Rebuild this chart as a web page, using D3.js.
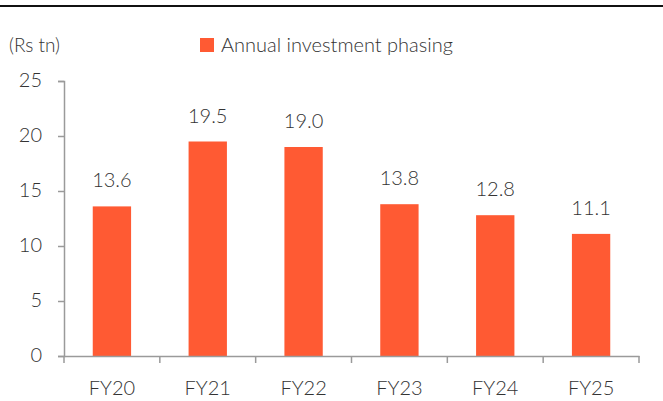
<!DOCTYPE html>
<html><head><meta charset="utf-8">
<script src="https://cdn.jsdelivr.net/npm/d3@7"></script>
<style>body{margin:0;background:#fff}svg{display:block}text{font-family:Lato,"Open Sans",sans-serif;font-weight:300}</style>
</head><body>
<script>
const categories = ["FY20","FY21","FY22","FY23","FY24","FY25"];
const values = [13.6,19.5,19.0,13.8,12.8,11.1];
const yTicks = [0,5,10,15,20,25];
const seriesName = "Annual investment phasing";
const unitLabel = "(Rs tn)";

const W=663,H=401;
const svg=d3.select("body").append("svg").attr("width",W).attr("height",H);
const color="#FF5A33", axisColor="#9a9a9a", textColor="#333";

// top rule
svg.append("line").attr("x1",0).attr("x2",W).attr("y1",6).attr("y2",6).attr("stroke","#111").attr("stroke-width",2);

const x=d3.scaleBand().domain(categories).range([64,639]).paddingInner(0.6).paddingOuter(0.3);
const y=d3.scaleLinear().domain([0,25]).range([356,81]);

// bars
svg.selectAll("rect.bar").data(values).enter().append("rect").attr("class","bar")
 .attr("x",(d,i)=>x(categories[i])).attr("width",x.bandwidth())
 .attr("y",d=>y(d)).attr("height",d=>y(0)-y(d)).attr("fill",color);

// value labels
svg.selectAll("text.val").data(values).enter().append("text").attr("class","val")
 .attr("x",(d,i)=>x(categories[i])+x.bandwidth()/2).attr("y",d=>y(d)-19)
 .attr("text-anchor","middle").attr("font-size",20).attr("fill",textColor)
 .text(d=>d.toFixed(1));

// y axis
const ya=svg.append("g").attr("transform","translate(64,0)")
 .call(d3.axisLeft(y).tickValues(yTicks).tickSize(6).tickPadding(16).tickFormat(d3.format("d")));
ya.select(".domain").attr("stroke",axisColor).attr("stroke-width",1.5);
ya.selectAll(".tick line").attr("stroke",axisColor).attr("stroke-width",1.5);
ya.selectAll(".tick text").attr("font-size",20).attr("fill",textColor).attr("font-family","Lato,sans-serif").attr("font-weight",300).attr("dy","0.25em");

// x axis
const xOuter=d3.scaleBand().domain(categories).range([64,639]);
const xa=svg.append("g").attr("transform","translate(0,356)")
 .call(d3.axisBottom(xOuter).tickSize(0).tickPadding(25));
xa.select(".domain").attr("stroke",axisColor).attr("stroke-width",1.5);
xa.selectAll(".tick text").attr("font-size",20).attr("fill",textColor).attr("font-family","Lato,sans-serif").attr("font-weight",300);
// boundary ticks
const bounds=categories.map(c=>xOuter(c)).concat([xOuter(categories[categories.length-1])+xOuter.bandwidth()]);
svg.selectAll("line.bt").data(bounds).enter().append("line")
 .attr("x1",d=>d).attr("x2",d=>d).attr("y1",356).attr("y2",363)
 .attr("stroke",axisColor).attr("stroke-width",1.5);

// unit label
svg.append("text").attr("x",9).attr("y",52).attr("font-size",19).attr("fill",textColor).text(unitLabel);
// legend
svg.append("rect").attr("x",200).attr("y",38).attr("width",14).attr("height",14).attr("fill",color);
svg.append("text").attr("x",221).attr("y",52).attr("font-size",20).attr("fill",textColor).text(seriesName);
</script>
</body></html>
